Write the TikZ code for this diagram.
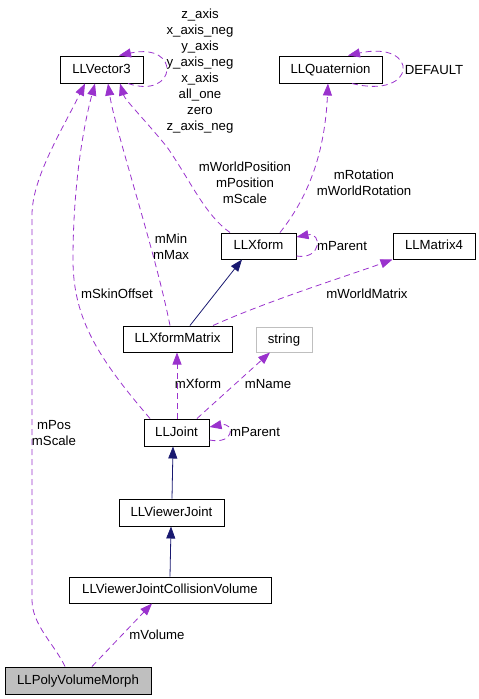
\documentclass[tikz,border=0pt]{standalone}
\usepackage{fontspec}
\setmainfont{Liberation Sans}
\usetikzlibrary{arrows.meta}
\definecolor{edgepurple}{HTML}{9A32CD}
\definecolor{edgenavy}{HTML}{191970}
\definecolor{boxgray}{HTML}{BFBFBF}
\begin{document}
\begin{tikzpicture}[x=1pt,y=-1pt,
  font=\fontsize{13.2}{16}\selectfont,
  box/.style={draw=black,line width=1pt,inner sep=0pt,text height=9.5pt,text depth=2pt},
  lbl/.style={inner sep=0pt,align=center},
  uses/.style={draw=edgepurple,line width=0.8pt,dash pattern=on 6pt off 4pt,-{Triangle[length=12pt,width=9pt,fill=edgepurple]}},
  inh/.style={draw=edgenavy,line width=0.8pt,-{Triangle[length=12pt,width=9pt,fill=edgenavy]}}]
\useasboundingbox (0,0) rectangle (479,699);
% nodes
\node[box,minimum width=83pt,minimum height=27pt] (vec) at (101.5,69.5) {LLVector3};
\node[box,minimum width=103pt,minimum height=27pt] (quat) at (330.5,69.5) {LLQuaternion};
\node[box,minimum width=75pt,minimum height=26pt] (xform) at (258.5,246) {LLXform};
\node[box,minimum width=82pt,minimum height=26pt] (mat) at (434,246) {LLMatrix4};
\node[box,minimum width=109pt,minimum height=26pt] (xfm) at (177.5,339) {LLXformMatrix};
\node[box,draw=boxgray,minimum width=56pt,minimum height=25pt] (str) at (284,339.5) {string};
\node[box,minimum width=65pt,minimum height=27pt] (joint) at (176.5,432.5) {LLJoint};
\node[box,minimum width=105pt,minimum height=27pt] (vj) at (171.5,512.5) {LLViewerJoint};
\node[box,minimum width=202pt,minimum height=26pt] (cv) at (170,590) {LLViewerJointCollisionVolume};
\node[box,fill=boxgray,minimum width=146pt,minimum height=27pt] (morph) at (78,680.5) {LLPolyVolumeMorph};
% inheritance
\draw[inh] ([xshift=12.5pt]xfm.north) -- ([xshift=-16.5pt]xform.south);
\draw[inh] ([xshift=0.5pt]vj.north) -- ([xshift=-3.5pt]joint.south);
\draw[inh] (cv.north) -- ([xshift=-0.5pt]vj.south);
% usage edges to LLVector3
\draw[uses] ([xshift=-13pt]morph.north) .. controls (55,645) and (32,625) .. (32,600) -- (32,215) .. controls (32,178) and (62,130) .. ([xshift=-16.5pt]vec.south);
\draw[uses] ([xshift=-26.5pt]joint.north) .. controls (100,360) and (73,320) .. (73,260) .. controls (73,180) and (85,120) .. ([xshift=-6.5pt]vec.south);
\draw[uses] ([xshift=-7.5pt]xfm.north) .. controls (155,250) and (115,130) .. ([xshift=6.5pt]vec.south);
\draw[uses] ([xshift=-28.5pt]xform.north) .. controls (205,215) and (190,180) .. (167,147) .. controls (145,120) and (125,100) .. ([xshift=18.5pt]vec.south);
\draw[uses] ([xshift=26.5pt]vec.south) .. controls (177,100) and (182,42) .. ([xshift=17.5pt]vec.north);
% LLQuaternion
\draw[uses] ([xshift=21.5pt]xform.north) .. controls (310,195) and (325,150) .. ([xshift=-2.5pt]quat.south);
\draw[uses] ([xshift=21.5pt]quat.south) .. controls (418,100) and (420,40) .. ([xshift=17.5pt]quat.north);
% LLXform self
\draw[uses] ([yshift=-10pt]xform.east) .. controls (322,260) and (322,232) .. ([yshift=9pt]xform.east);
% LLMatrix4
\draw[uses] ([xshift=35.5pt]xfm.north) .. controls (270,300) and (350,275) .. (mat.south west);
% LLJoint edges
\draw[uses] ([xshift=0.5pt]joint.north) -- ([xshift=-0.5pt]xfm.south);
\draw[uses] ([xshift=20.5pt]joint.north) -- ([xshift=-14pt]str.south);
\draw[uses] ([yshift=-7.5pt]joint.east) .. controls (235,445) and (235,422) .. ([yshift=5.5pt]joint.east);
% mVolume
\draw[uses] ([xshift=14pt]morph.north) -- ([xshift=-18pt]cv.south);
% labels
\node[lbl] (lvec) at (200,71) {z\_axis\\x\_axis\_neg\\y\_axis\\y\_axis\_neg\\x\_axis\\all\_one\\zero\\z\_axis\_neg};
\node[lbl,text height=9.5pt,text depth=2pt] (lquat) at (434,71) {DEFAULT};
\node[lbl] (lwp) at (245,183) {mWorldPosition\\mPosition\\mScale};
\node[lbl] (lrot) at (364,183) {mRotation\\mWorldRotation};
\node[lbl] (lmin) at (171,247) {mMin\\mMax};
\node[lbl,text height=9.5pt,text depth=2pt] (lxp) at (342,247) {mParent};
\node[lbl,text height=9.5pt,text depth=2pt] (lskin) at (117,295) {mSkinOffset};
\node[lbl,text height=9.5pt,text depth=2pt] (lwm) at (367,295) {mWorldMatrix};
\node[lbl,text height=9.5pt,text depth=2pt] (lxf) at (198,385) {mXform};
\node[lbl,text height=9.5pt,text depth=2pt] (lname) at (268,385) {mName};
\node[lbl] (lpos) at (54,433) {mPos\\mScale};
\node[lbl,text height=9.5pt,text depth=2pt] (ljp) at (255,433) {mParent};
\node[lbl,text height=9.5pt,text depth=2pt] (lvol) at (157,636) {mVolume};
\end{tikzpicture}
\end{document}
